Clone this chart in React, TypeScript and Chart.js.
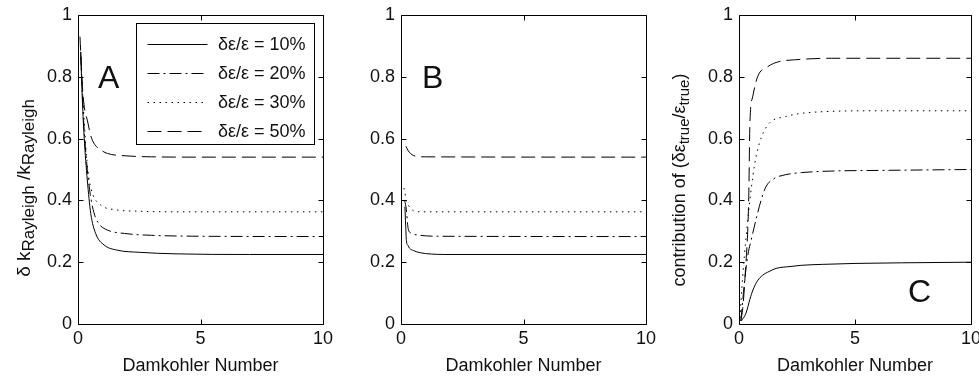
import React, { useEffect, useRef } from 'react';
import { Chart, registerables } from 'chart.js';

Chart.register(...registerables);

const W = 979;
const H = 377;
const FONT_FAMILY = '"Liberation Sans", Arial, Helvetica, sans-serif';
const TEXT = '#111';

// ---- axis ticks / labels ----
const xTickValues = [0, 5, 10];
const xTickLabels = ['0', '5', '10'];
const yTickValues = [0, 0.2, 0.4, 0.6, 0.8, 1];
const yTickLabels = ['0', '0.2', '0.4', '0.6', '0.8', '1'];
const xAxisTitle = 'Damkohler Number';
const seriesLabels = ['δε/ε = 10%', 'δε/ε = 20%', 'δε/ε = 30%', 'δε/ε = 50%'];

// ---- Panel A data ----
const aX10 = [0.11, 0.18, 0.25, 0.38, 0.52, 0.72, 1.06, 1.6, 2.5, 4, 7, 10];
const aY10 = [0.876, 0.72, 0.606, 0.466, 0.358, 0.293, 0.256, 0.239, 0.232, 0.227, 0.225, 0.225];
const aX20 = [0.11, 0.18, 0.25, 0.38, 0.5, 0.65, 0.85, 1.2, 1.9, 3, 5, 10];
const aY20 = [0.88, 0.74, 0.63, 0.5, 0.42, 0.36, 0.325, 0.304, 0.293, 0.287, 0.284, 0.283];
const aX30 = [0.1, 0.18, 0.25, 0.35, 0.45, 0.6, 0.93, 1.6, 2.5, 4, 10];
const aY30 = [0.9, 0.76, 0.66, 0.54, 0.47, 0.42, 0.385, 0.369, 0.365, 0.363, 0.363];
const aX50 = [0.08, 0.18, 0.28, 0.38, 0.5, 0.65, 0.9, 1.2, 2, 3, 5, 10];
const aY50 = [0.93, 0.768, 0.69, 0.66, 0.615, 0.585, 0.565, 0.552, 0.544, 0.541, 0.54, 0.54];

// ---- Panel B data ----
const bX10 = [0.16, 0.19, 0.22, 0.28, 0.35, 0.5, 0.62, 1.0, 2, 10];
const bY10 = [0.38, 0.32, 0.27, 0.255, 0.245, 0.238, 0.234, 0.228, 0.225, 0.225];
const bX20 = [0.15, 0.22, 0.29, 0.41, 0.7, 1.5, 10];
const bY20 = [0.4, 0.37, 0.31, 0.294, 0.288, 0.284, 0.283];
const bX30 = [0.12, 0.15, 0.22, 0.3, 0.45, 0.6, 1, 10];
const bY30 = [0.44, 0.43, 0.4, 0.385, 0.37, 0.364, 0.363, 0.363];
const bX50 = [0.2, 0.3, 0.45, 0.6, 1, 10];
const bY50 = [0.575, 0.56, 0.548, 0.543, 0.541, 0.54];

// ---- Panel C data ----
const cX10 = [0.1, 0.3, 0.47, 0.6, 0.8, 1.02, 1.3, 1.6, 2.2, 2.7, 3.6, 5, 7, 10];
const cY10 = [0.01, 0.035, 0.08, 0.11, 0.14, 0.158, 0.17, 0.18, 0.186, 0.19, 0.193, 0.196, 0.198, 0.2];
const cX20 = [0.08, 0.23, 0.37, 0.52, 0.73, 0.95, 1.16, 1.5, 2, 2.7, 4, 6, 10];
const cY20 = [0.01, 0.13, 0.218, 0.27, 0.337, 0.4, 0.444, 0.47, 0.483, 0.49, 0.495, 0.497, 0.5];
const cX30 = [0.05, 0.09, 0.23, 0.44, 0.66, 0.88, 1.24, 2.0, 3.6, 6, 10];
const cY30 = [0.02, 0.078, 0.218, 0.38, 0.51, 0.585, 0.644, 0.671, 0.687, 0.69, 0.69];
const cX50 = [0.08, 0.16, 0.27, 0.42, 0.47, 0.59, 0.8, 1.24, 1.72, 2.4, 4, 10];
const cY50 = [0.01, 0.05, 0.164, 0.41, 0.65, 0.735, 0.8, 0.833, 0.849, 0.855, 0.86, 0.86];

const DASHES: number[][] = [[], [12, 4, 2, 4], [1.5, 4.5], [14, 6]];

type Seg = { t: string; sub?: boolean };
const yLabelA: Seg[] = [
  { t: 'δ k' },
  { t: 'Rayleigh', sub: true },
  { t: ' /k' },
  { t: 'Rayleigh', sub: true },
];
const yLabelC: Seg[] = [
  { t: 'contribution of (δε' },
  { t: 'true', sub: true },
  { t: '/ε' },
  { t: 'true', sub: true },
  { t: ')' },
];

type Panel = {
  letter: string;
  xs: number[][];
  ys: number[][];
  plotLeft: number;
  plotRight: number;
  yAxisWidth: number;
  letterDx: number;
  letterDy: number;
  legend: boolean;
  yLabel: Seg[] | null;
  yLabelX: number;
  yLabelY: number;
  yLabelMain: number;
  yLabelSub: number;
};

const panels: Panel[] = [
  {
    letter: 'A',
    xs: [aX10, aX20, aX30, aX50],
    ys: [aY10, aY20, aY30, aY50],
    plotLeft: 78,
    plotRight: 323,
    yAxisWidth: 78,
    letterDx: 20,
    letterDy: 73,
    legend: true,
    yLabel: yLabelA,
    yLabelX: 30,
    yLabelY: 188,
    yLabelMain: 19,
    yLabelSub: 17,
  },
  {
    letter: 'B',
    xs: [bX10, bX20, bX30, bX50],
    ys: [bY10, bY20, bY30, bY50],
    plotLeft: 401,
    plotRight: 646,
    yAxisWidth: 60,
    letterDx: 21,
    letterDy: 73,
    legend: false,
    yLabel: null,
    yLabelX: 0,
    yLabelY: 0,
    yLabelMain: 18,
    yLabelSub: 15,
  },
  {
    letter: 'C',
    xs: [cX10, cX20, cX30, cX50],
    ys: [cY10, cY20, cY30, cY50],
    plotLeft: 739,
    plotRight: 971,
    yAxisWidth: 60,
    letterDx: 169,
    letterDy: 287,
    legend: false,
    yLabel: yLabelC,
    yLabelX: 685,
    yLabelY: 180,
    yLabelMain: 18,
    yLabelSub: 15,
  },
];

function drawRotatedRich(
  ctx: CanvasRenderingContext2D,
  segs: Seg[],
  cx: number,
  cy: number,
  mainSize: number,
  subSize: number,
  subDrop: number
) {
  ctx.save();
  ctx.translate(cx, cy);
  ctx.rotate(-Math.PI / 2);
  ctx.textBaseline = 'alphabetic';
  ctx.textAlign = 'left';
  ctx.fillStyle = TEXT;
  const widths = segs.map((s) => {
    ctx.font = `${s.sub ? subSize : mainSize}px ${FONT_FAMILY}`;
    return ctx.measureText(s.t).width;
  });
  const total = widths.reduce((a, b) => a + b, 0);
  let u = -total / 2;
  segs.forEach((s, i) => {
    ctx.font = `${s.sub ? subSize : mainSize}px ${FONT_FAMILY}`;
    ctx.fillText(s.t, u, s.sub ? subDrop : 0);
    u += widths[i];
  });
  ctx.restore();
}

function decorPlugin(p: Panel) {
  return {
    id: 'decor' + p.letter,
    afterDatasetsDraw(chart: any) {
      const { ctx, chartArea: ca, scales } = chart;
      const L = Math.round(ca.left) + 0.5;
      const R = Math.round(ca.right) + 0.5;
      const T = Math.round(ca.top) + 0.5;
      const B = Math.round(ca.bottom) + 0.5;
      ctx.save();
      ctx.strokeStyle = '#000';
      ctx.lineWidth = 1;
      ctx.setLineDash([]);
      ctx.beginPath();
      ctx.rect(L, T, R - L, B - T);
      const tl = 5;
      xTickValues.forEach((v) => {
        const px = Math.round(scales.x.getPixelForValue(v)) + 0.5;
        ctx.moveTo(px, B);
        ctx.lineTo(px, B - tl);
        ctx.moveTo(px, T);
        ctx.lineTo(px, T + tl);
      });
      yTickValues.forEach((v) => {
        const py = Math.round(scales.y.getPixelForValue(v)) + 0.5;
        ctx.moveTo(L, py);
        ctx.lineTo(L + tl, py);
        ctx.moveTo(R, py);
        ctx.lineTo(R - tl, py);
      });
      ctx.stroke();

      // panel letter
      ctx.fillStyle = TEXT;
      ctx.font = `32px ${FONT_FAMILY}`;
      ctx.textAlign = 'left';
      ctx.textBaseline = 'alphabetic';
      ctx.fillText(p.letter, ca.left + p.letterDx, ca.top + p.letterDy);

      // legend
      if (p.legend) {
        const bx = Math.round(ca.left + 58) + 0.5;
        const by = Math.round(ca.top + 8) + 0.5;
        const bw = 178;
        const bh = 121;
        ctx.fillStyle = '#fff';
        ctx.fillRect(bx, by, bw, bh);
        ctx.strokeStyle = '#000';
        ctx.lineWidth = 1;
        ctx.strokeRect(bx, by, bw, bh);
        chart.data.datasets.forEach((ds: any, i: number) => {
          const ry = Math.round(by + 20 + i * 29) + 0.5;
          ctx.save();
          ctx.setLineDash(ds.borderDash || []);
          ctx.beginPath();
          ctx.moveTo(bx + 11, ry);
          ctx.lineTo(bx + 71, ry);
          ctx.stroke();
          ctx.restore();
          ctx.fillStyle = TEXT;
          ctx.font = `18px ${FONT_FAMILY}`;
          ctx.textAlign = 'right';
          ctx.textBaseline = 'middle';
          ctx.fillText(ds.label, bx + 169, ry + 1);
        });
      }
      ctx.restore();
    },
    afterDraw(chart: any) {
      if (p.yLabel) {
        drawRotatedRich(chart.ctx, p.yLabel, p.yLabelX, p.yLabelY, p.yLabelMain, p.yLabelSub, 4);
      }
    },
  };
}

function buildConfig(p: Panel): any {
  const font = { family: FONT_FAMILY, size: 18 };
  return {
    type: 'line',
    data: {
      datasets: p.xs.map((xs, i) => ({
        label: seriesLabels[i],
        data: xs.map((x, j) => ({ x, y: p.ys[i][j] })),
        borderColor: '#000',
        borderWidth: 1,
        borderDash: DASHES[i],
        pointRadius: 0,
        fill: false,
        cubicInterpolationMode: 'monotone',
      })),
    },
    options: {
      animation: false,
      responsive: false,
      events: [],
      layout: {
        autoPadding: false,
        padding: { left: p.plotLeft - p.yAxisWidth, right: W - p.plotRight, top: 15, bottom: 0 },
      },
      plugins: { legend: { display: false }, tooltip: { enabled: false } },
      scales: {
        x: {
          type: 'linear',
          min: 0,
          max: 10,
          afterBuildTicks: (s: any) => {
            s.ticks = xTickValues.map((v) => ({ value: v }));
          },
          ticks: {
            font,
            color: TEXT,
            padding: 4,
            maxRotation: 0,
            autoSkip: false,
            callback: (v: number) => xTickLabels[xTickValues.indexOf(v)],
          },
          grid: { display: false, drawTicks: false },
          border: { display: false },
          title: { display: true, text: xAxisTitle, font, color: TEXT, padding: { top: 0, bottom: 0 } },
          afterFit: (s: any) => {
            s.height = 53;
            s.paddingLeft = 0;
            s.paddingRight = 0;
          },
        },
        y: {
          type: 'linear',
          min: 0,
          max: 1,
          afterBuildTicks: (s: any) => {
            s.ticks = yTickValues.map((v) => ({ value: v }));
          },
          ticks: {
            font,
            color: TEXT,
            padding: 6,
            autoSkip: false,
            callback: (v: number) => yTickLabels[yTickValues.indexOf(v)],
          },
          grid: { display: false, drawTicks: false },
          border: { display: false },
          afterFit: (s: any) => {
            s.width = p.yAxisWidth;
            s.paddingTop = 0;
            s.paddingBottom = 0;
          },
        },
      },
    },
    plugins: [decorPlugin(p)],
  };
}

export default function App() {
  const r0 = useRef<HTMLCanvasElement>(null);
  const r1 = useRef<HTMLCanvasElement>(null);
  const r2 = useRef<HTMLCanvasElement>(null);
  useEffect(() => {
    const refs = [r0, r1, r2];
    const charts = panels.map((p, i) => new Chart(refs[i].current as HTMLCanvasElement, buildConfig(p)));
    return () => charts.forEach((c) => c.destroy());
  }, []);
  const cs: React.CSSProperties = { position: 'absolute', left: 0, top: 0, width: W, height: H, display: 'block' };
  return (
    <div style={{ position: 'absolute', left: 0, top: 0, width: W, height: H, background: '#fff' }}>
      <canvas ref={r0} width={W} height={H} style={cs} />
      <canvas ref={r1} width={W} height={H} style={cs} />
      <canvas ref={r2} width={W} height={H} style={cs} />
    </div>
  );
}
